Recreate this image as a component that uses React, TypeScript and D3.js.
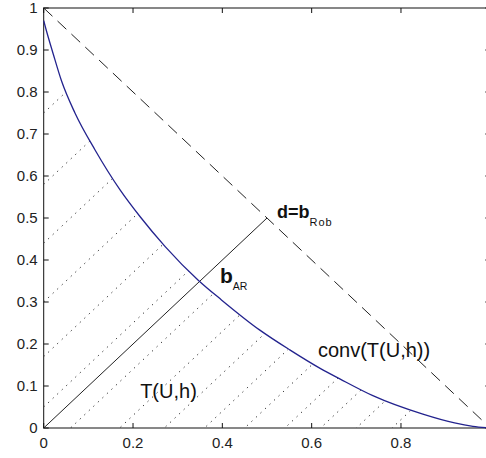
import React, { useEffect, useRef } from 'react';
import * as d3 from 'd3';

const curveX = [0, 0.005, 0.0215, 0.04, 0.07, 0.115, 0.171, 0.216, 0.272, 0.346, 0.398, 0.484, 0.551, 0.619, 0.663, 0.737, 0.849, 0.92, 0.961, 1];
const curveY = [0.97, 0.95, 0.89, 0.826, 0.75, 0.662, 0.567, 0.503, 0.432, 0.352, 0.305, 0.233, 0.186, 0.142, 0.117, 0.077, 0.033, 0.012, 0.004, 0];

// dotted hatch lines y = x + c under the curve
const hatchOffsets = [0.75, 0.58, 0.44, 0.3, 0.17, 0.05, -0.06, -0.17, -0.27, -0.36, -0.45, -0.54, -0.62, -0.7, -0.78];

const xTicks = [0, 0.2, 0.4, 0.6, 0.8, 1];
const xTickLabels = ['0', '0.2', '0.4', '0.6', '0.8', ''];
const yTicks = [0, 0.1, 0.2, 0.3, 0.4, 0.5, 0.6, 0.7, 0.8, 0.9, 1];

const bRob = [0.5, 0.5];
const bAR = [0.35, 0.35];

const App = () => {
    const svgRef = useRef<SVGSVGElement>(null);

    useEffect(() => {
        const W = 486, H = 458;
        const left = 43.7, top = 8, width = 446.6, height = 420;
        const font = "'Liberation Sans', Arial, sans-serif";

        const svg = d3.select(svgRef.current).attr('width', W).attr('height', H);
        svg.selectAll('*').remove();

        const x = d3.scaleLinear().domain([0, 1]).range([left, left + width]);
        const y = d3.scaleLinear().domain([0, 1]).range([top + height, top]);

        const pts = curveX.map((v, i) => [v, curveY[i]] as [number, number]);

        // clip for the hatching: area under the curve
        const area = d3.area<[number, number]>()
            .x(d => x(d[0]))
            .y0(y(0))
            .y1(d => y(d[1]))
            .curve(d3.curveMonotoneX);
        svg.append('clipPath').attr('id', 'under')
            .append('path').datum(pts).attr('d', area);

        const hatch = svg.append('g').attr('clip-path', 'url(#under)');
        hatchOffsets.forEach(c => {
            hatch.append('line')
                .attr('x1', x(0)).attr('y1', y(c))
                .attr('x2', x(1)).attr('y2', y(1 + c))
                .attr('stroke', '#222')
                .attr('stroke-width', 1)
                .attr('stroke-dasharray', '1.2,5');
        });

        // axes box
        svg.append('rect')
            .attr('x', x(0)).attr('y', y(1))
            .attr('width', width).attr('height', height)
            .attr('fill', 'none').attr('stroke', '#111').attr('stroke-width', 1);

        const tl = 5;
        xTicks.forEach((t, i) => {
            svg.append('line').attr('x1', x(t)).attr('x2', x(t)).attr('y1', y(0)).attr('y2', y(0) - tl).attr('stroke', '#111');
            svg.append('line').attr('x1', x(t)).attr('x2', x(t)).attr('y1', y(1)).attr('y2', y(1) + tl).attr('stroke', '#111');
            svg.append('text').attr('x', x(t)).attr('y', y(0) + 20)
                .attr('text-anchor', 'middle')
                .attr('font-family', font).attr('font-size', 15).attr('fill', '#222')
                .text(xTickLabels[i]);
        });
        yTicks.forEach(t => {
            svg.append('line').attr('x1', x(0)).attr('x2', x(0) + tl).attr('y1', y(t)).attr('y2', y(t)).attr('stroke', '#111');
            svg.append('line').attr('x1', x(1)).attr('x2', x(1) - tl).attr('y1', y(t)).attr('y2', y(t)).attr('stroke', '#111');
            svg.append('text').attr('x', x(0) - 6).attr('y', y(t) + 5)
                .attr('text-anchor', 'end')
                .attr('font-family', font).attr('font-size', 15).attr('fill', '#222')
                .text(d3.format('~g')(t));
        });

        // dashed line through d=b_Rob
        svg.append('line')
            .attr('x1', x(0)).attr('y1', y(1)).attr('x2', x(1)).attr('y2', y(0))
            .attr('stroke', '#222').attr('stroke-width', 1)
            .attr('stroke-dasharray', '12,7');

        // solid line from origin to b_Rob
        svg.append('line')
            .attr('x1', x(0)).attr('y1', y(0)).attr('x2', x(bRob[0])).attr('y2', y(bRob[1]))
            .attr('stroke', '#222').attr('stroke-width', 1);

        // the curve
        const line = d3.line<[number, number]>()
            .x(d => x(d[0]))
            .y(d => y(d[1]))
            .curve(d3.curveMonotoneX);
        svg.append('path').datum(pts)
            .attr('d', line)
            .attr('fill', 'none')
            .attr('stroke', '#23238e')
            .attr('stroke-width', 1.3);

        // labels
        const t1 = svg.append('text').attr('x', x(bRob[0]) + 10).attr('y', y(bRob[1]))
            .attr('font-family', font).attr('fill', '#111');
        t1.append('tspan').attr('font-size', 18).attr('font-weight', 'bold').text('d=b');
        t1.append('tspan').attr('font-size', 11).attr('dy', 8).attr('letter-spacing', 1).text('Rob');

        const t2 = svg.append('text').attr('x', x(bAR[0]) + 20).attr('y', y(bAR[1]) + 2)
            .attr('font-family', font).attr('fill', '#111');
        t2.append('tspan').attr('font-size', 21).attr('font-weight', 'bold').text('b');
        t2.append('tspan').attr('font-size', 10.5).attr('dy', 7).text('AR');

        svg.append('text').attr('x', x(0.614)).attr('y', y(0.169))
            .attr('font-family', font).attr('font-size', 20).attr('fill', '#111')
            .text('conv(T(U,h))');

        svg.append('text').attr('x', x(0.216)).attr('y', y(0.071))
            .attr('font-family', font).attr('font-size', 20).attr('fill', '#111')
            .text('T(U,h)');
    }, []);

    return (
        <svg ref={svgRef} style={{ position: 'absolute', left: 0, top: 0, background: '#fff' }} />
    );
};

export default App;
